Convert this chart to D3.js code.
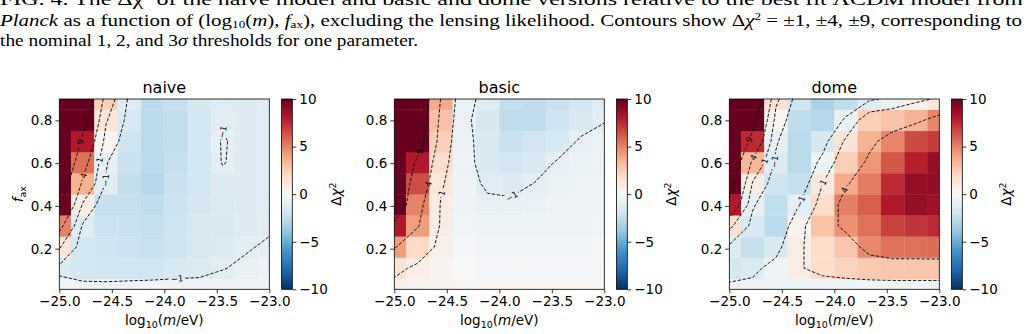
<!DOCTYPE html>
<html>
<head>
<meta charset="utf-8">
<script src="https://cdn.jsdelivr.net/npm/d3@7"></script>
<style>
  body { margin: 0; background: #fff; }
  svg { display: block; }
  text { font-family: "DejaVu Sans", sans-serif; fill: #000; }
</style>
</head>
<body>
<svg id="chart" width="1029" height="334"></svg>
<script>
// grid centres of the scan
const massGrid = [-25.0, -24.778, -24.556, -24.333, -24.111, -23.889, -23.667, -23.444, -23.222, -23.0];
const faxGrid = [0.01, 0.109, 0.208, 0.307, 0.406, 0.504, 0.603, 0.702, 0.801, 0.9];

// delta chi^2, one row per f_ax (ascending), columns follow massGrid
const naiveDchi2 = [
  [-0.3, -0.5, -0.5, -0.4, -0.3, -0.4, -0.5, -0.5, -0.4, -0.3],
  [-1.4, -1.8, -1.9, -1.9, -1.9, -1.6, -1.4, -1.05, -0.8, -0.6],
  [1.2, -1.8, -2.0, -2.1, -2.2, -2.0, -1.6, -1.4, -1.1, -0.85],
  [5.0, -1.2, -2.1, -2.2, -2.3, -2.0, -1.6, -1.5, -1.3, -1.15],
  [9.8, 0.8, -2.3, -2.3, -2.5, -2.1, -1.7, -1.4, -1.3, -1.2],
  [12.5, 3.5, -1.1, -2.4, -2.8, -2.2, -1.8, -1.3, -1.3, -1.2],
  [16, 5.5, -0.9, -2.2, -2.7, -2.3, -1.8, -0.95, -1.3, -1.2],
  [20, 8.0, 0.2, -2.0, -2.6, -2.4, -1.8, -0.92, -1.3, -1.2],
  [22, 11, 1.2, -1.6, -2.6, -2.4, -1.8, -1.1, -1.3, -1.2],
  [24, 15, 2.5, -1.3, -2.6, -2.3, -1.7, -1.3, -1.3, -1.2]
];
const basicDchi2 = [
  [0.5, 0.4, 0.3, 0.2, 0.2, 0.2, 0.2, 0.2, 0.2, 0.2],
  [1.4, 0.7, 0.3, 0.0, -0.2, -0.2, -0.2, -0.2, -0.2, -0.1],
  [4.2, 2.0, 0.6, -0.1, -0.3, -0.3, -0.3, -0.3, -0.3, -0.2],
  [8.0, 4.2, 0.8, -0.3, -0.5, -0.5, -0.5, -0.4, -0.4, -0.3],
  [13.3, 5.0, 0.85, -0.4, -0.75, -0.8, -0.7, -0.6, -0.5, -0.4],
  [14, 6.5, 1.25, -0.5, -1.21, -1.34, -0.98, -0.7, -0.6, -0.5],
  [16, 8.0, 1.8, -0.6, -1.5, -1.8, -1.5, -0.9, -0.7, -0.6],
  [18, 11.7, 2.4, -0.7, -1.45, -2.2, -1.9, -1.6, -0.85, -0.7],
  [20, 13, 3.0, -0.7, -1.7, -2.5, -2.5, -2.0, -1.5, -1.05],
  [20, 13.9, 3.8, -0.7, -1.3, -2.4, -2.5, -2.2, -1.8, -1.2]
];
const domeDchi2 = [
  [-0.6, -0.5, -0.4, -0.5, -0.4, -0.4, -0.3, -0.3, -0.3, -0.3],
  [-1.8, -1.4, -0.4, 0.8, 1.8, 2.3, 2.6, 2.8, 2.8, 2.8],
  [-1.3, -2.3, -1.6, 0.8, 1.8, 2.8, 4.8, 5.5, 5.5, 5.6],
  [1.5, -1.5, -2.6, 0.3, 2.9, 4.55, 5.5, 6.8, 7.2, 7.5],
  [8.0, -0.8, -2.4, -1.0, 1.8, 5.1, 6.0, 8.0, 8.8, 8.5],
  [11, 0.8, -2.0, -2.3, 1.0, 3.8, 5.2, 7.5, 8.8, 8.9],
  [14, 3.3, -1.3, -2.7, -0.5, 2.5, 4.4, 6.2, 7.8, 8.8],
  [16, 7.5, -0.8, -2.7, -1.7, 1.35, 3.5, 4.9, 6.6, 7.0],
  [18, 10.5, 0.2, -2.5, -2.8, -0.7, 2.4, 2.9, 3.5, 4.9],
  [18, 14, 1.5, -2.0, -3.2, -2.5, -1.3, -0.55, 0.5, 1.25]
];

const contourLevels = [-9, -4, -1, 1, 4, 9];
// where the inline contour labels sit: [level, log10 m, f_ax]
const naiveLabelSpots = [[9, -24.80, 0.70], [4, -24.786, 0.544], [1, -24.62, 0.615], [-1, -24.56, 0.52], [-1, -23.45, 0.79], [-1, -23.88, 0.07]];
const basicLabelSpots = [[9, -24.78, 0.66], [4, -24.70, 0.505], [1, -24.55, 0.46], [-1, -23.88, 0.443]];
const domeLabelSpots = [[9, -24.80, 0.708], [4, -24.78, 0.63], [1, -24.69, 0.614], [-1, -24.58, 0.607], [-1, -24.33, 0.42], [1, -24.09, 0.506], [4, -23.9, 0.474]];

const panelTitles = ['naive', 'basic', 'dome'];
const xTicks = [-25.0, -24.5, -24.0, -23.5, -23.0];
const yTicks = [0.2, 0.4, 0.6, 0.8];
const cbarTicks = [-10, -5, 0, 5, 10];
const rdbuColors = ['#053061', '#2166ac', '#4393c3', '#92c5de', '#d1e5f0', '#f7f7f7', '#fddbc7', '#f4a582', '#d6604d', '#b2182b', '#67001f'];

const svg = d3.select('#chart');
const fs = 13.5; // tick and axis label size

// caption above the figure
const capFont = '"Liberation Serif", "DejaVu Serif", serif';
const cap = svg.append('g').attr('font-size', 17.5).style('font-family', capFont);
cap.append('text').attr('x', 0).attr('y', 5).attr('textLength', 1023).attr('lengthAdjust', 'spacingAndGlyphs')
  .style('font-family', capFont)
  .text('FIG. 4. The Δχ² of the naive model and basic and dome versions relative to the best fit ΛCDM model from');
const l2 = cap.append('text').attr('x', 0).attr('y', 25.5).attr('textLength', 1022).attr('lengthAdjust', 'spacingAndGlyphs')
  .style('font-family', capFont);
l2.append('tspan').attr('font-style', 'italic').text('Planck');
l2.append('tspan').text(' as a function of (log');
l2.append('tspan').attr('font-size', 11).attr('dy', 2.5).text('10');
l2.append('tspan').attr('dy', -2.5).text('(');
l2.append('tspan').attr('font-style', 'italic').text('m');
l2.append('tspan').text('), ');
l2.append('tspan').attr('font-style', 'italic').text('f');
l2.append('tspan').attr('font-size', 11).attr('dy', 2).text('ax');
l2.append('tspan').attr('dy', -2).text('), excluding the lensing likelihood. Contours show Δ');
l2.append('tspan').attr('font-style', 'italic').text('χ');
l2.append('tspan').attr('font-size', 11).attr('dy', -6).text('2');
l2.append('tspan').attr('dy', 6).text(' = ±1, ±4, ±9, corresponding to');
const l3 = cap.append('text').attr('x', 0).attr('y', 45.5).attr('textLength', 418).attr('lengthAdjust', 'spacingAndGlyphs')
  .style('font-family', capFont);
l3.append('tspan').text('the nominal 1, 2, and 3');
l3.append('tspan').attr('font-style', 'italic').text('σ');
l3.append('tspan').text(' thresholds for one parameter.');

// RdBu_r colour map, vmin -10 vmax 10
const cmapDomain = d3.range(rdbuColors.length).map(i => -10 + i * 2);
const color = d3.scaleLinear().domain(cmapDomain).range(rdbuColors).interpolate(d3.interpolateRgb).clamp(true);

const defs = svg.append('defs');
const grad = defs.append('linearGradient').attr('id', 'cbar').attr('x1', 0).attr('y1', 1).attr('x2', 0).attr('y2', 0);
rdbuColors.forEach((c, i) => {
  grad.append('stop').attr('offset', i / (rdbuColors.length - 1)).attr('stop-color', c);
});

const panels = [
  { grid: naiveDchi2, spots: naiveLabelSpots },
  { grid: basicDchi2, spots: basicLabelSpots },
  { grid: domeDchi2, spots: domeLabelSpots }
];

const plotTop = 99, plotH = 190.3, plotW = 210;
const nx = massGrid.length, ny = faxGrid.length;
const stepM = (massGrid[nx - 1] - massGrid[0]) / (nx - 1);
const stepF = (faxGrid[ny - 1] - faxGrid[0]) / (ny - 1);

function cellEdges(centres, i) {
  const lo = i === 0 ? centres[0] - (centres[1] - centres[0]) / 2 : (centres[i - 1] + centres[i]) / 2;
  const hi = i === centres.length - 1 ? centres[i] + (centres[i] - centres[i - 1]) / 2 : (centres[i] + centres[i + 1]) / 2;
  return [lo, hi];
}

function nearestOnRings(rings, px, py) {
  let best = null;
  rings.forEach(r => {
    for (let k = 0; k < r.length - 1; k++) {
      const [ax, ay] = r[k], [bx, by] = r[k + 1];
      const vx = bx - ax, vy = by - ay;
      const len2 = vx * vx + vy * vy;
      if (len2 === 0) continue;
      let t = ((px - ax) * vx + (py - ay) * vy) / len2;
      t = Math.max(0, Math.min(1, t));
      const qx = ax + t * vx, qy = ay + t * vy;
      const d = (qx - px) ** 2 + (qy - py) ** 2;
      if (!best || d < best.d) best = { d, x: qx, y: qy, ang: Math.atan2(vy, vx) * 180 / Math.PI };
    }
  });
  return best;
}

panels.forEach((p, k) => {
  const left = 59.3 + k * 335;
  const x = d3.scaleLinear().domain([-25, -23]).range([left, left + plotW]);
  const y = d3.scaleLinear().domain([faxGrid[0], faxGrid[ny - 1]]).range([plotTop + plotH, plotTop]);

  const g = svg.append('g');
  defs.append('clipPath').attr('id', 'clip' + k)
    .append('rect').attr('x', left).attr('y', plotTop).attr('width', plotW).attr('height', plotH);

  const plot = g.append('g').attr('clip-path', `url(#clip${k})`);

  // heat map cells
  const cells = [];
  p.grid.forEach((row, j) => row.forEach((v, i) => cells.push({ i, j, v })));
  plot.selectAll('rect.cell').data(cells).enter().append('rect')
    .attr('class', 'cell')
    .attr('x', d => x(cellEdges(massGrid, d.i)[0]))
    .attr('width', d => x(cellEdges(massGrid, d.i)[1]) - x(cellEdges(massGrid, d.i)[0]) + 0.3)
    .attr('y', d => y(cellEdges(faxGrid, d.j)[1]))
    .attr('height', d => y(cellEdges(faxGrid, d.j)[0]) - y(cellEdges(faxGrid, d.j)[1]) + 0.3)
    .attr('fill', d => color(d.v));

  // contour lines
  const values = p.grid.flat();
  const contours = d3.contours().size([nx, ny]).thresholds(contourLevels)(values);
  const toPx = pt => [x(massGrid[0] + (pt[0] - 0.5) * stepM), y(faxGrid[0] + (pt[1] - 0.5) * stepF)];
  const ringsByLevel = {};
  contours.forEach(c => {
    ringsByLevel[c.value] = [];
    c.coordinates.forEach(poly => poly.forEach(ring => ringsByLevel[c.value].push(ring.map(toPx))));
  });

  const mask = defs.append('mask').attr('id', 'mask' + k).attr('maskUnits', 'userSpaceOnUse')
    .attr('x', 0).attr('y', 0).attr('width', 1029).attr('height', 334);
  mask.append('rect').attr('x', 0).attr('y', 0).attr('width', 1029).attr('height', 334).attr('fill', '#fff');

  const lines = plot.append('g').attr('mask', `url(#mask${k})`);
  const line = d3.line();
  contourLevels.forEach(lv => {
    (ringsByLevel[lv] || []).forEach(r => {
      lines.append('path').attr('d', line(r))
        .attr('fill', 'none').attr('stroke', '#000').attr('stroke-width', 0.9)
        .attr('stroke-dasharray', '3.4,1.7');
    });
  });

  // inline labels
  p.spots.forEach(([lv, m, f]) => {
    const hit = nearestOnRings(ringsByLevel[lv] || [], x(m), y(f));
    if (!hit) return;
    let ang = hit.ang;
    if (ang > 90) ang -= 180;
    if (ang < -90) ang += 180;
    const t = plot.append('text')
      .attr('transform', `translate(${hit.x},${hit.y}) rotate(${ang})`)
      .attr('text-anchor', 'middle').attr('dy', '0.35em')
      .attr('font-size', 8.5)
      .text(d3.format('d')(lv));
    const tw = t.node().getComputedTextLength();
    mask.append('rect')
      .attr('x', -tw / 2 - 1.5).attr('y', -4.5).attr('width', tw + 3).attr('height', 9)
      .attr('transform', `translate(${hit.x},${hit.y}) rotate(${ang})`)
      .attr('fill', '#000');
  });

  // frame
  g.append('rect').attr('x', left).attr('y', plotTop).attr('width', plotW).attr('height', plotH)
    .attr('fill', 'none').attr('stroke', '#000').attr('stroke-width', 0.8);

  // axes
  const xAxis = d3.axisBottom(x).tickValues(xTicks).tickSize(4).tickPadding(3).tickFormat(d3.format('.1f'));
  const gx = g.append('g').attr('transform', `translate(0,${plotTop + plotH})`).call(xAxis);
  const yAxis = d3.axisLeft(y).tickValues(yTicks).tickSize(4).tickPadding(3).tickFormat(d3.format('.1f'));
  const gy = g.append('g').attr('transform', `translate(${left},0)`).call(yAxis);
  [gx, gy].forEach(a => {
    a.select('.domain').remove();
    a.selectAll('line').attr('stroke', '#000').attr('stroke-width', 0.8);
    a.selectAll('text').attr('font-size', fs).style('font-family', '"DejaVu Sans", sans-serif');
  });

  // title
  g.append('text').attr('x', left + plotW / 2).attr('y', 93).attr('text-anchor', 'middle')
    .attr('font-size', 16).text(panelTitles[k]);

  // x label
  const xl = g.append('text').attr('x', left + plotW / 2).attr('y', 325).attr('text-anchor', 'middle').attr('font-size', fs);
  xl.append('tspan').text('log');
  xl.append('tspan').attr('font-size', 9.5).attr('dy', 3).text('10');
  xl.append('tspan').attr('dy', -3).text('(');
  xl.append('tspan').attr('font-style', 'italic').text('m');
  xl.append('tspan').text('/eV)');

  // y label only on first panel
  if (k === 0) {
    const yl = g.append('text').attr('transform', `translate(${left - 36},${plotTop + plotH / 2}) rotate(-90)`)
      .attr('text-anchor', 'middle').attr('font-size', fs);
    yl.append('tspan').attr('font-style', 'italic').text('f');
    yl.append('tspan').attr('font-size', 9.5).attr('dy', 3).text('ax');
  }

  // colour bar
  const cbLeft = left + plotW + 12.3, cbW = 10.7;
  const cy = d3.scaleLinear().domain([-10, 10]).range([plotTop + plotH, plotTop]);
  g.append('rect').attr('x', cbLeft).attr('y', plotTop).attr('width', cbW).attr('height', plotH)
    .attr('fill', 'url(#cbar)').attr('stroke', '#000').attr('stroke-width', 0.8);
  const cAxis = d3.axisRight(cy).tickValues(cbarTicks).tickSize(4).tickPadding(3).tickFormat(d3.format('d'));
  const gc = g.append('g').attr('transform', `translate(${cbLeft + cbW},0)`).call(cAxis);
  gc.select('.domain').remove();
  gc.selectAll('line').attr('stroke', '#000').attr('stroke-width', 0.8);
  gc.selectAll('text').attr('font-size', fs).style('font-family', '"DejaVu Sans", sans-serif');

  const cl = g.append('text').attr('transform', `translate(${cbLeft + cbW + 49},${plotTop + plotH / 2}) rotate(-90)`)
    .attr('text-anchor', 'middle').attr('font-size', fs);
  cl.append('tspan').text('Δ');
  cl.append('tspan').attr('font-style', 'italic').text('χ');
  cl.append('tspan').attr('font-size', 9.5).attr('dy', -5).text('2');
});
</script>
</body>
</html>
